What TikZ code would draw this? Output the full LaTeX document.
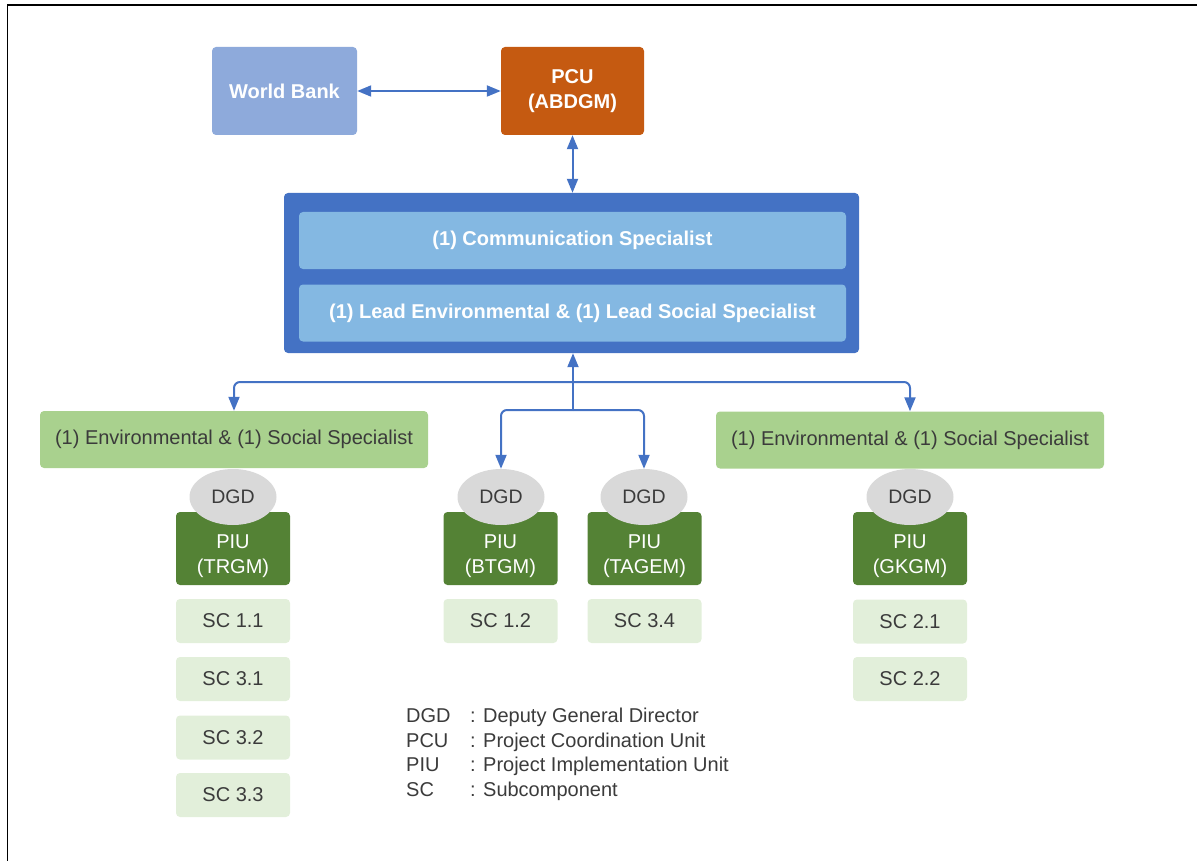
\documentclass[tikz,border=0pt]{standalone}
\usepackage{fontspec}
\setmainfont{Liberation Sans}
\usetikzlibrary{arrows.meta,shapes.geometric}

\definecolor{wbblue}{HTML}{8EAADB}
\definecolor{pcuorange}{HTML}{C55A11}
\definecolor{unitblue}{HTML}{4472C4}
\definecolor{innerblue}{HTML}{84B8E2}
\definecolor{envgreen}{HTML}{A9D18E}
\definecolor{piugreen}{HTML}{548235}
\definecolor{scgreen}{HTML}{E2EFDA}
\definecolor{dgdgray}{HTML}{D9D9D9}
\definecolor{darktext}{HTML}{3B3B3B}
\definecolor{linkblue}{HTML}{4472C4}

\tikzset{
  base/.style={rounded corners=4pt, inner sep=0pt, align=center,
               font=\fontsize{20pt}{25pt}\selectfont},
  topbox/.style={base, fill=#1, text=white, font=\bfseries\fontsize{20pt}{25pt}\selectfont,
                 minimum height=88pt},
  innerbox/.style={base, fill=innerblue, text=white,
                   font=\bfseries\fontsize{20pt}{25pt}\selectfont,
                   minimum width=547pt, minimum height=57pt},
  envbox/.style={base, fill=envgreen, text=darktext,
                 minimum width=388pt, minimum height=57pt},
  piubox/.style={base, fill=piugreen, minimum width=114pt, minimum height=73pt},
  piutext/.style={base, text=white},
  dgdnode/.style={ellipse, fill=dgdgray, text=darktext, inner sep=0pt,
                  minimum width=87pt, minimum height=56pt,
                  font=\fontsize{19.5pt}{24pt}\selectfont},
  scbox/.style={base, fill=scgreen, text=darktext, minimum width=114pt, minimum height=44pt},
  link/.style={draw=linkblue, line width=2pt},
  tip/.style={-{Triangle[length=14pt,width=11pt]}},
  twotip/.style={{Triangle[length=14pt,width=11pt]}-{Triangle[length=14pt,width=11pt]}},
  legend/.style={anchor=base west, inner sep=0pt, text=darktext,
                 font=\fontsize{20pt}{24pt}\selectfont}
}

\begin{document}
\begin{tikzpicture}[x=1pt,y=-1pt]
\useasboundingbox (0,0) rectangle (1197,861);

% outer frame (top and left edges)
\draw[line width=1.6pt] (7.5,861) -- (7.5,5) -- (1197,5);

% top level
\node[topbox=wbblue, minimum width=145pt] (wb) at (284.5,91) {World Bank};
\node[topbox=pcuorange, minimum width=143pt] (pcu) at (572.5,91) {PCU\\(ABDGM)};

% central unit with its two specialist rows
\node[base, fill=unitblue, minimum width=575pt, minimum height=160pt] (unit) at (571.5,273) {};
\node[innerbox] (comm) at (572.5,240.5) {(1) Communication Specialist};
\node[innerbox] (lead) at (572.5,313) {(1) Lead Environmental \& (1) Lead Social Specialist};

% specialists at PIU level
\node[envbox] (envL) at (234,439.5) {(1) Environmental \& (1) Social Specialist};
\node[envbox] (envR) at (910,440) {(1) Environmental \& (1) Social Specialist};

% PIU boxes
\node[piubox] (piu1) at (233,548.5) {};
\node[piubox] (piu2) at (500.5,548.5) {};
\node[piubox] (piu3) at (644.5,548.5) {};
\node[piubox] (piu4) at (910,548.5) {};

% DGD heads
\node[dgdnode] (dgd1) at (233,497) {DGD};
\node[dgdnode] (dgd2) at (501,497) {DGD};
\node[dgdnode] (dgd3) at (644,497) {DGD};
\node[dgdnode] (dgd4) at (910,497) {DGD};

% PIU names
\node[piutext] (piu1t) at (233,556) {PIU\\(TRGM)};
\node[piutext] (piu2t) at (500.5,556) {PIU\\(BTGM)};
\node[piutext] (piu3t) at (644.5,556) {PIU\\(TAGEM)};
\node[piutext] (piu4t) at (910,556) {PIU\\(GKGM)};

% subcomponents
\node[scbox] (sc11) at (233,621) {SC 1.1};
\node[scbox] (sc31) at (233,679) {SC 3.1};
\node[scbox] (sc32) at (233,737.5) {SC 3.2};
\node[scbox] (sc33) at (233,795) {SC 3.3};
\node[scbox] (sc12) at (500.5,621) {SC 1.2};
\node[scbox] (sc34) at (644.5,621) {SC 3.4};
\node[scbox] (sc21) at (910,621.5) {SC 2.1};
\node[scbox] (sc22) at (910,679) {SC 2.2};

% connectors
\draw[link,twotip] (wb.east) -- (pcu.west);
\draw[link,twotip] (pcu.south) -- (pcu.south |- unit.north);

\coordinate (hub) at (573,382);
\coordinate (split) at (573,410);
\draw[link,tip] (split) -- (split |- unit.south);
\draw[link,tip,rounded corners=6pt] (hub) -| (envL.north);
\draw[link,tip,rounded corners=6pt] (hub) -| (envR.north);
\draw[link,tip,rounded corners=6pt] (split) -| (dgd2.north);
\draw[link,tip,rounded corners=6pt] (split) -| (dgd3.north);

% legend
\node[legend] (k1) at (406,722.5) {DGD};
\node[legend] (k2) at (406,747) {PCU};
\node[legend] (k3) at (406,771.5) {PIU};
\node[legend] (k4) at (406,796) {SC};
\node[legend] (d1) at (470,722.5) {: Deputy General Director};
\node[legend] (d2) at (470,747) {: Project Coordination Unit};
\node[legend] (d3) at (470,771.5) {: Project Implementation Unit};
\node[legend] (d4) at (470,796) {: Subcomponent};
\end{tikzpicture}
\end{document}
